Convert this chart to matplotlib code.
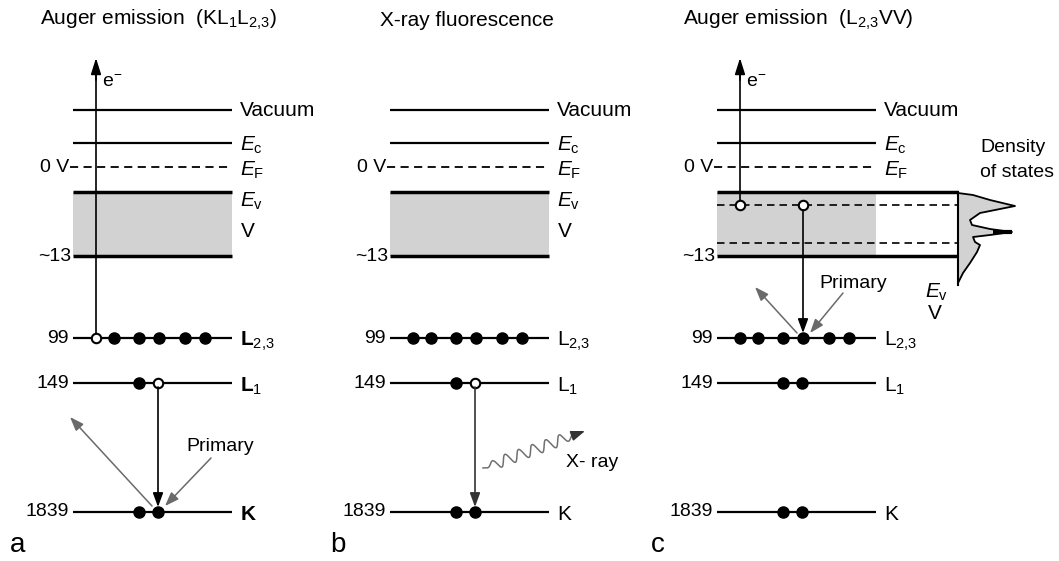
import numpy as np
import matplotlib.pyplot as plt
from matplotlib import font_manager

# pick a condensed sans if we have it
installed = {f.name for f in font_manager.fontManager.ttflist}
FONT = 'Liberation Sans Narrow' if 'Liberation Sans Narrow' in installed else 'Liberation Sans'
plt.rcParams['font.family'] = [FONT, 'DejaVu Sans']
plt.rcParams['mathtext.fontset'] = 'custom'
plt.rcParams['mathtext.rm'] = FONT
plt.rcParams['mathtext.it'] = FONT + ':italic'
plt.rcParams['mathtext.bf'] = FONT + ':bold'

# ---- content ----
titles = ['Auger emission  (KL$_1$L$_{2{,}3}$)', 'X-ray fluorescence',
          'Auger emission  (L$_{2{,}3}$VV)']
panel_tags = ['a', 'b', 'c']
band_names = ['Vacuum', r'$E_\mathrm{c}$', r'$E_\mathrm{F}$', r'$E_\mathrm{v}$', 'V']
band_energies = ['0 V', '~13']
core_energies = [99, 149, 1839]
core_names_bold = [r'$\mathbf{L}_{2{,}3}$', r'$\mathbf{L}_1$', r'$\mathbf{K}$']
core_names = [r'L$_{2{,}3}$', r'L$_1$', 'K']

# electron occupation per level (1 = electron, 0 = hole), panels a/b/c
occ_L23 = [[0, 1, 1, 1, 1, 1], [1, 1, 1, 1, 1, 1], [1, 1, 1, 1, 1, 1]]
occ_L1 = [[1, 0], [1, 0], [1, 1]]
occ_K = [[1, 1], [1, 1], [1, 1]]
# valence-band holes in panel c (slot index of the six-slot row, upper dashed level)
valence_holes = [0, 3]

# valence density of states outline for panel c (row, width)
dos_row = [193, 195, 200, 206, 209, 213, 220, 225, 229, 232, 235, 237, 242, 245, 252, 263, 273, 283]
dos_width = [0, 15, 32, 57, 42, 22, 12, 14, 32, 54, 32, 15, 17, 22, 19, 12, 5, 0]

# ---- layout (pixels) ----
W, H = 1059, 561
Y = dict(vac=110, ec=143, ef=167, ev=192, vb=256, L23=338, L1=383, K=512, title=20)
panel_x0 = [73, 390, 717]
LINE = 159
slots6 = [23, 41, 66, 86, 112, 132]
slots2 = [66, 85]
title_x = [40, 380, 683]
tag_x = [10, 330, 651]
FS = 15

fig = plt.figure(figsize=(W / 100, H / 100), dpi=100)
ax = fig.add_axes([0, 0, 1, 1])
ax.set_xlim(0, W)
ax.set_ylim(H, 0)
ax.axis('off')


def hline(x0, x1, y, lw=1.6, **kw):
    ax.plot([x0, x1], [y, y], color='k', lw=lw, solid_capstyle='butt', **kw)


def electrons(xs, y, occ):
    for x, o in zip(xs, occ):
        if o:
            ax.plot(x, y, 'o', ms=8, mfc='k', mec='k', zorder=5)
        else:
            ax.plot(x, y, 'o', ms=6.8, mfc='white', mec='k', mew=1.5, zorder=5)


def arrow(p_from, p_to, color='k', lw=1.2, hl=0.6, hw=0.22):
    ax.annotate('', xy=p_to, xytext=p_from,
                arrowprops=dict(arrowstyle=f'-|>,head_length={hl},head_width={hw}',
                                color=color, lw=lw, mutation_scale=14,
                                shrinkA=0, shrinkB=0), zorder=6)


for i in range(3):
    x0 = panel_x0[i]
    x1 = x0 + LINE
    xr = 958 if i == 2 else x1   # panel c has the widened valence box
    ax.text(title_x[i], Y['title'], titles[i], fontsize=FS, va='center')
    ax.text(tag_x[i], 545, panel_tags[i], fontsize=FS + 5, va='center')

    # vacuum, conduction, Fermi
    hline(x0, x1, Y['vac'])
    hline(x0, x1, Y['ec'])
    ax.plot([x0 - 3, x1], [Y['ef']] * 2, color='k', lw=1.3, ls=(0, (4.5, 3)))
    ax.text(x0 - 4, Y['ef'], band_energies[0], fontsize=FS - 1, ha='right', va='center')

    # valence band
    ax.fill_between([x0, x1], Y['ev'], Y['vb'], color='#d2d2d2', lw=0)
    hline(x0, xr, Y['ev'], lw=2.5)
    hline(x0, xr, Y['vb'], lw=2.5)
    ax.text(x0 - 2, Y['vb'], band_energies[1], fontsize=FS - 1, ha='right', va='center')

    lx = x1 + 8
    ax.text(lx, Y['vac'], band_names[0], fontsize=FS, va='center')
    ax.text(lx, Y['ec'] + 2, band_names[1], fontsize=FS, va='center')
    ax.text(lx, Y['ef'] + 3, band_names[2], fontsize=FS, va='center')
    if i < 2:
        ax.text(lx, Y['ev'] + 9, band_names[3], fontsize=FS, va='center')
        ax.text(lx + 1, Y['ev'] + 39, band_names[4], fontsize=FS, va='center')

    # core levels
    names = core_names_bold if i == 0 else core_names
    for key, e, nm in zip(['L23', 'L1', 'K'], core_energies, names):
        hline(x0, x1, Y[key])
        ax.text(x0 - 4, Y[key], str(e), fontsize=FS - 1, ha='right', va='center')
        ax.text(lx, Y[key] + 3, nm, fontsize=FS, va='center')

    electrons([x0 + s for s in slots6], Y['L23'], occ_L23[i])
    electrons([x0 + s for s in slots2], Y['L1'], occ_L1[i])
    electrons([x0 + s for s in slots2], Y['K'], occ_K[i])

# ---- panel a: KL1L2,3 Auger ----
x0 = panel_x0[0]
ex = x0 + slots6[0]
ax.plot([ex, ex], [Y['L23'] - 4, 75], color='k', lw=1.2)
arrow((ex, 80), (ex, 58), hl=0.7, hw=0.22)
ax.text(ex + 6, 82, 'e$^{-}$', fontsize=FS - 1, va='center')
hx = x0 + slots2[1]
arrow((hx, Y['L1'] + 4), (hx, Y['K'] - 5))
arrow((hx - 6, Y['K'] - 6), (70, 417), color='#6a6a6a', lw=1.1)
arrow((211, 458), (hx + 7, Y['K'] - 6), color='#6a6a6a', lw=1.1)
ax.text(220, 446, 'Primary', fontsize=FS - 1, ha='center', va='center')

# ---- panel b: X-ray fluorescence ----
x0 = panel_x0[1]
hx = x0 + slots2[1]
arrow((hx, Y['L1'] + 4), (hx, Y['K'] - 5), color='#333333')
p0 = np.array([483.0, 468.0])
p1 = np.array([578.0, 434.0])
t = np.linspace(0, 1, 400)
d = p1 - p0
n = np.array([-d[1], d[0]]) / np.hypot(*d)
env = np.clip(np.minimum(t, 1 - t) * 6, 0, 1)
wave = 5.5 * env * np.sin(2 * np.pi * 7 * t)
pts = p0 + np.outer(t, d) + np.outer(wave, n)
ax.plot(pts[:, 0], pts[:, 1], color='#707070', lw=1.1)
arrow(tuple(pts[-8]), (585, 431), color='#333333', lw=1.1)
ax.text(566, 462, 'X- ray', fontsize=FS - 1, va='center')

# ---- panel c: L2,3VV Auger ----
x0 = panel_x0[2]
xr = 958
ax.plot([x0, 1005], [205, 205], color='k', lw=1.2, ls=(0, (4.5, 3)))
ax.plot([x0, 972], [243, 243], color='k', lw=1.2, ls=(0, (4.5, 3)))
# density of states hanging off the valence box
dx = [xr + w for w in dos_width]
ax.fill_betweenx(dos_row, xr, dx, color='#d2d2d2', lw=0, zorder=2)
ax.plot(dx, dos_row, color='k', lw=1.3, zorder=3)
ax.plot([xr, xr], [Y['ev'], 285], color='k', lw=1.5, zorder=3)
ax.plot([993, 1012], [232, 232], color='k', lw=3, solid_capstyle='butt', zorder=4)
ax.text(980, 147, 'Density', fontsize=FS - 1, va='center')
ax.text(980, 172, 'of states', fontsize=FS - 1, va='center')
ax.text(925, 292, band_names[3], fontsize=FS, va='center')
ax.text(928, 313, band_names[4], fontsize=FS, va='center')

vx = [x0 + slots6[k] for k in valence_holes]
electrons(vx, 205, [0, 0])
ax.plot([vx[0], vx[0]], [201, 75], color='k', lw=1.2)
arrow((vx[0], 80), (vx[0], 58), hl=0.7, hw=0.22)
ax.text(vx[0] + 6, 82, 'e$^{-}$', fontsize=FS - 1, va='center')
arrow((vx[1], 210), (vx[1], Y['L23'] - 5))
arrow((vx[1] - 6, Y['L23'] - 5), (755, 287), color='#6a6a6a', lw=1.1)
arrow((843, 293), (vx[1] + 7, Y['L23'] - 5), color='#6a6a6a', lw=1.1)
ax.text(853, 283, 'Primary', fontsize=FS - 1, ha='center', va='center')

fig.savefig('out.png', dpi=100)
